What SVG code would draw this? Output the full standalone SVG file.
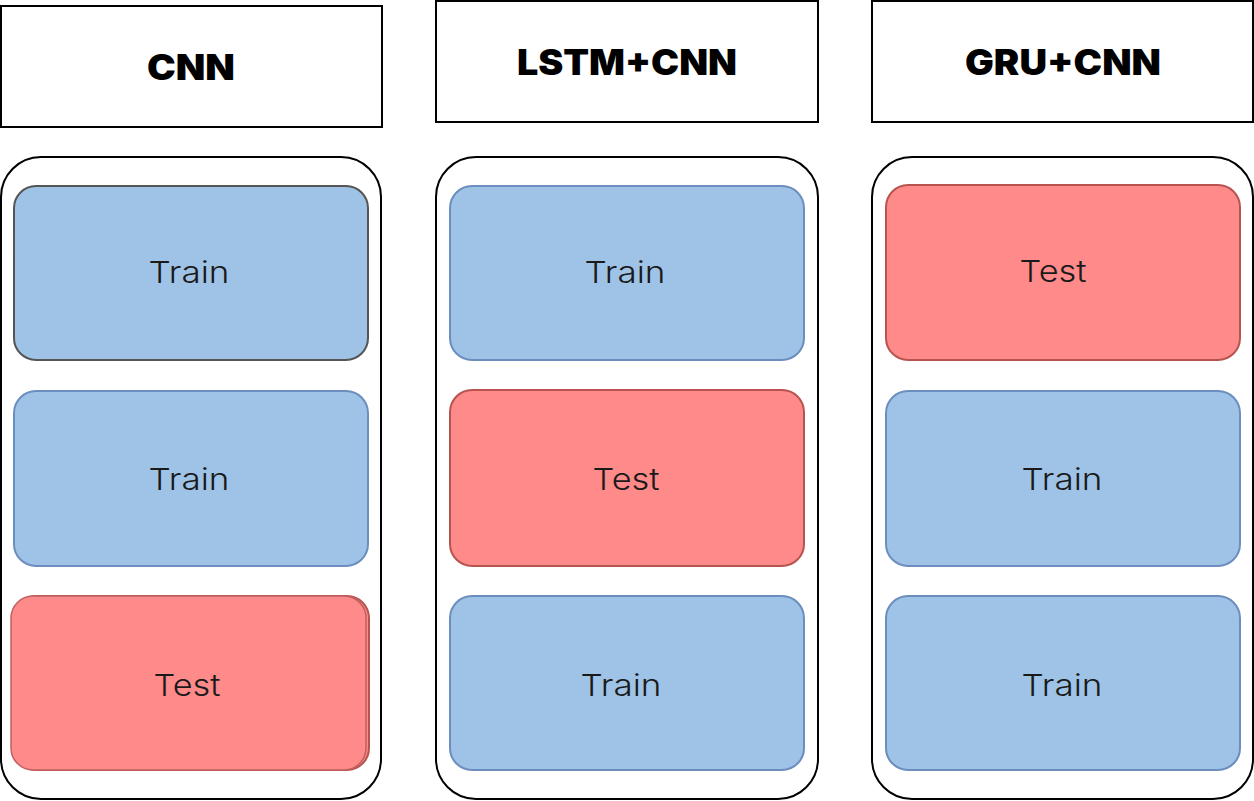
<svg xmlns="http://www.w3.org/2000/svg" width="1254" height="801" viewBox="0 0 1254 801">
<style>
.hdr{fill:#fff;stroke:#000;stroke-width:2}
.cont{fill:#fff;stroke:#000;stroke-width:2}
.train{fill:#9fc3e6;stroke:#6c8ebf;stroke-width:2}
.test{fill:#ff8a8a;stroke:#b85450;stroke-width:2}
.title{font-family:Inter,"Liberation Sans",sans-serif;font-weight:900;font-size:35px;fill:#000;text-anchor:middle}
.lbl{font-family:Inter,"Liberation Sans",sans-serif;font-weight:300;font-size:30px;fill:#1a1a1a;text-anchor:middle}
</style>
<rect width="1254" height="801" fill="#fff"/>
<g id="col-cnn">
  <g id="hdr-cnn"><rect class="hdr" x="1" y="6" width="381" height="121"/><text class="title" x="191" y="80" textLength="88" lengthAdjust="spacingAndGlyphs">CNN</text></g>
  <rect id="cont-cnn" class="cont" x="1" y="157" width="380" height="642" rx="40"/>
  <g id="cnn-train1"><rect class="train" x="14" y="186" width="354" height="174" rx="22" style="stroke:#555"/><text class="lbl" x="189" y="283" textLength="81" lengthAdjust="spacingAndGlyphs">Train</text></g>
  <g id="cnn-train2"><rect class="train" x="14" y="391" width="354" height="175" rx="22"/><text class="lbl" x="189" y="490" textLength="81" lengthAdjust="spacingAndGlyphs">Train</text></g>
  <g id="cnn-test"><rect class="test" x="14" y="596" width="355" height="174" rx="22"/><rect class="test" x="11" y="596" width="355" height="174" rx="22" style="stroke:#c06060;stroke-width:1.5"/><text class="lbl" x="187" y="696" textLength="67" lengthAdjust="spacingAndGlyphs">Test</text></g>
</g>
<g id="col-lstm">
  <g id="hdr-lstm"><rect class="hdr" x="436" y="1" width="382" height="121"/><text class="title" x="627" y="75" textLength="220" lengthAdjust="spacingAndGlyphs">LSTM+CNN</text></g>
  <rect id="cont-lstm" class="cont" x="436" y="157" width="382" height="642" rx="40"/>
  <g id="lstm-train1"><rect class="train" x="450" y="186" width="354" height="174" rx="22"/><text class="lbl" x="625" y="283" textLength="81" lengthAdjust="spacingAndGlyphs">Train</text></g>
  <g id="lstm-test"><rect class="test" x="450" y="390" width="354" height="176" rx="22"/><text class="lbl" x="626" y="490" textLength="67" lengthAdjust="spacingAndGlyphs">Test</text></g>
  <g id="lstm-train2"><rect class="train" x="450" y="596" width="354" height="174" rx="22"/><text class="lbl" x="621" y="696" textLength="81" lengthAdjust="spacingAndGlyphs">Train</text></g>
</g>
<g id="col-gru">
  <g id="hdr-gru"><rect class="hdr" x="872" y="1" width="381" height="121"/><text class="title" x="1063" y="75" textLength="196" lengthAdjust="spacingAndGlyphs">GRU+CNN</text></g>
  <rect id="cont-gru" class="cont" x="872" y="157" width="381" height="642" rx="40"/>
  <g id="gru-test"><rect class="test" x="886" y="185" width="354" height="175" rx="22"/><text class="lbl" x="1053" y="282" textLength="67" lengthAdjust="spacingAndGlyphs">Test</text></g>
  <g id="gru-train1"><rect class="train" x="886" y="391" width="354" height="175" rx="22"/><text class="lbl" x="1062" y="490" textLength="81" lengthAdjust="spacingAndGlyphs">Train</text></g>
  <g id="gru-train2"><rect class="train" x="886" y="596" width="354" height="174" rx="22"/><text class="lbl" x="1062" y="696" textLength="81" lengthAdjust="spacingAndGlyphs">Train</text></g>
</g>
<g id="connectors"></g>
</svg>
